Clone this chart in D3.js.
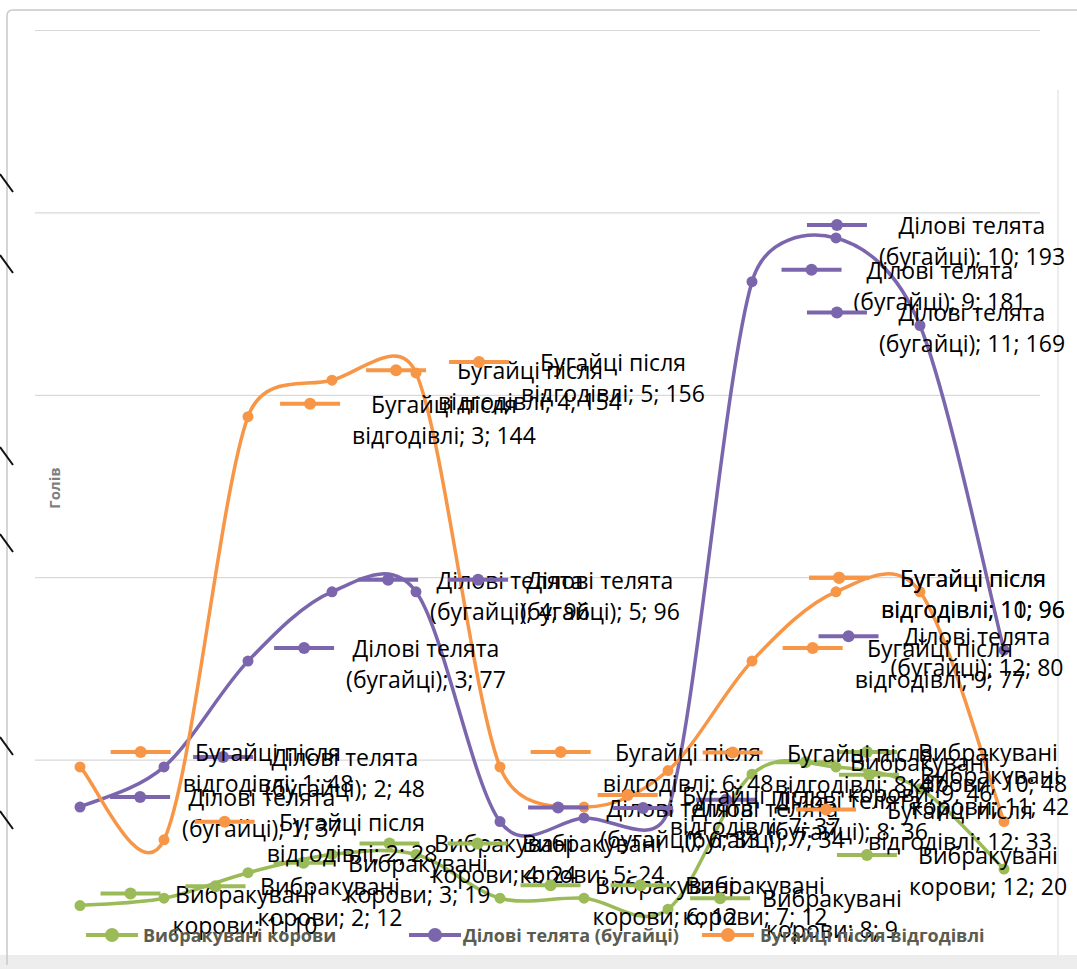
<!DOCTYPE html>
<html>
<head>
<meta charset="utf-8">
<script src="https://cdn.jsdelivr.net/npm/d3@7"></script>
<style>
  body { margin: 0; background: #fff; }
  svg { display: block; }
</style>
</head>
<body>
<script>
// Monthly head counts (голів) for three groups of cattle
const months = [1, 2, 3, 4, 5, 6, 7, 8, 9, 10, 11, 12];
const culledCows    = [10, 12, 19, 24, 24, 12, 12, 9, 46, 48, 42, 20];
const bullCalves    = [37, 48, 77, 96, 96, 33, 34, 36, 181, 193, 169, 80];
const fattenedBulls = [48, 28, 144, 154, 156, 48, 37, 47, 77, 96, 96, 33];
const seriesNames = ["Вибракувані корови", "Ділові телята (бугайці)", "Бугайці після відгодівлі"];
const seriesColors = ["#9bbb59", "#7b66ad", "#f79646"];
const yTicks = [0, 50, 100, 150, 200, 250];
const yTitle = "Голів";

// words of each series name kept on the first line of a data label
const firstLineWords = [1, 2, 2];

// data label placement: [dx, dy] of the label centre from its point
const labelOffsets = [
  [[165,-12],[166,-12],[170,-10],[172,-11],[176,-11],[165,-13],[171,-13],[164,-11],[168,-12],[152,-15],[70,-14],[-16,-14]],
  [[182,-10],[181,-10],[178,-13],[178,-12],[184,-12],[180,-14],[181,-10],[180,-11],[188,-12],[136,-13],[52,-13],[-27,-14]],
  [[188,-15],[188,-18],[196,-13],[198,-10],[197,-11],[188,-15],[171,-12],[192,-18],[188,-13],[137,-14],[53,-14],[-44,-12]]
];

const W = 1077, H = 969;
const svg = d3.select("body").append("svg").attr("width", W).attr("height", H);

// chart frame
svg.append("rect").attr("x", 0).attr("y", 955).attr("width", W).attr("height", 14).attr("fill", "#ededed");
svg.append("path")
  .attr("d", "M7,965 L7,16 Q7,10 13,10 L1077,10")
  .attr("fill", "none").attr("stroke", "#c8c8c8").attr("stroke-width", 1.5);
svg.append("line").attr("x1", 1058).attr("x2", 1058).attr("y1", 90).attr("y2", 955)
  .attr("stroke", "#e6e6e6").attr("stroke-width", 1.5);

// ink strokes along the left edge of the page
[185, 266, 458, 545, 748, 822].forEach(cy => {
  svg.append("path").attr("d", `M0,${cy - 11} L13,${cy + 7}`)
    .attr("stroke", "#111").attr("stroke-width", 2).attr("fill", "none");
});

const x = d3.scalePoint().domain(months).range([80, 1004]);
const y = d3.scaleLinear().domain([0, 250]).range([942, 30]);

// horizontal gridlines
svg.append("g")
  .attr("transform", "translate(35,0)")
  .call(d3.axisLeft(y).tickValues(yTicks).tickSize(-1005).tickFormat(""))
  .call(g => g.select(".domain").remove())
  .call(g => g.selectAll(".tick line").attr("stroke", "#d9d9d9").attr("stroke-width", 1.2)
    .filter(d => d === 0).remove());

// axis title
svg.append("text")
  .attr("transform", "translate(60,488) rotate(-90)")
  .attr("text-anchor", "middle")
  .attr("font-family", "Open Sans, sans-serif")
  .attr("font-weight", "bold")
  .attr("font-size", 15)
  .attr("fill", "#7f7f7f")
  .text(yTitle);

const allSeries = [culledCows, bullCalves, fattenedBulls].map((vals, i) => ({
  name: seriesNames[i],
  color: seriesColors[i],
  points: months.map((m, j) => ({ m, v: vals[j] }))
}));

// smoothed line: Catmull-Rom style Bezier whose handles never reach
// past half of the segment they shape
function smoothPath(pts) {
  const P = pts.map(d => [x(d.m), y(d.v)]);
  const n = P.length;
  const tan = P.map((p, i) => {
    const a = P[Math.max(0, i - 1)], b = P[Math.min(n - 1, i + 1)];
    return [(b[0] - a[0]) / 6, (b[1] - a[1]) / 6];
  });
  const clamp = (t, len) => {
    const l = Math.hypot(t[0], t[1]), lim = len * 0.5;
    return l > lim ? [t[0] * lim / l, t[1] * lim / l] : t;
  };
  const path = d3.path();
  path.moveTo(P[0][0], P[0][1]);
  for (let i = 0; i < n - 1; i++) {
    const a = P[i], b = P[i + 1];
    const len = Math.hypot(b[0] - a[0], b[1] - a[1]);
    const t0 = clamp(tan[i], len), t1 = clamp(tan[i + 1], len);
    path.bezierCurveTo(a[0] + t0[0], a[1] + t0[1], b[0] - t1[0], b[1] - t1[1], b[0], b[1]);
  }
  return path.toString();
}

// series lines and markers
allSeries.forEach(s => {
  const g = svg.append("g");
  g.append("path")
    .attr("d", smoothPath(s.points))
    .attr("fill", "none")
    .attr("stroke", s.color)
    .attr("stroke-width", 3.5)
    .attr("stroke-linejoin", "round");
  g.selectAll("circle").data(s.points).join("circle")
    .attr("cx", d => x(d.m)).attr("cy", d => y(d.v)).attr("r", 5.5)
    .attr("fill", s.color);
});

// legend key: short line with a marker in the middle
function drawKey(g, cx, cy, color, half, r) {
  g.append("line").attr("x1", cx - half).attr("x2", cx + half).attr("y1", cy).attr("y2", cy)
    .attr("stroke", color).attr("stroke-width", 4);
  g.append("circle").attr("cx", cx).attr("cy", cy).attr("r", r).attr("fill", color);
}

// data labels with legend keys
const labelFont = 23, lineGap = 31;
allSeries.forEach((s, si) => {
  const words = s.name.split(" ");
  const head = words.slice(0, firstLineWords[si]).join(" ");
  const tail = words.slice(firstLineWords[si]).join(" ");
  s.points.forEach((p, j) => {
    const [dx, dy] = labelOffsets[si][j];
    const cx = x(p.m) + dx, cy = y(p.v) + dy;
    const g = svg.append("g");
    const keyG = g.append("g");
    const t = g.append("text")
      .attr("font-family", "Open Sans, sans-serif")
      .attr("font-size", labelFont)
      .attr("fill", "#000")
      .attr("text-anchor", "middle");
    t.append("tspan").attr("x", cx).attr("y", cy).attr("dominant-baseline", "central").text(head);
    t.append("tspan").attr("x", cx).attr("y", cy + lineGap).attr("dominant-baseline", "central")
      .text(`${tail}; ${p.m}; ${p.v}`);
    const box = t.node().getBBox();
    drawKey(keyG, box.x - 42, cy, s.color, 30, 6);
  });
});

// legend
const legendItems = [
  { key: 112, text: 143 },
  { key: 435, text: 463 },
  { key: 728, text: 760 }
];
allSeries.forEach((s, i) => {
  const g = svg.append("g");
  drawKey(g, legendItems[i].key, 935, s.color, 26, 7);
  g.append("text")
    .attr("x", legendItems[i].text).attr("y", 935)
    .attr("dominant-baseline", "central")
    .attr("font-family", "Open Sans, sans-serif")
    .attr("font-weight", "bold")
    .attr("font-size", 18)
    .attr("fill", "#5a5c50")
    .text(s.name);
});
</script>
</body>
</html>
